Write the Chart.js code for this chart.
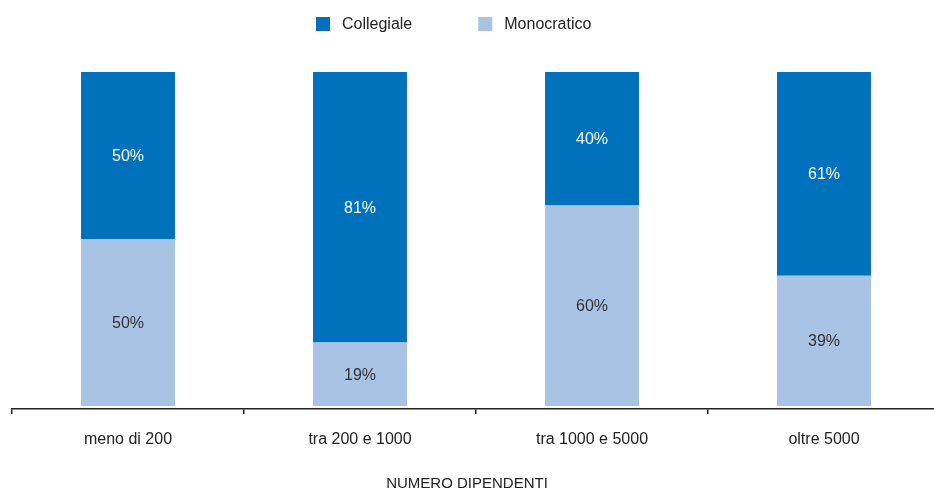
<!DOCTYPE html>
<html lang="it">
<head>
<meta charset="utf-8">
<title>Organo amministrativo per numero dipendenti</title>
<script src="https://cdn.jsdelivr.net/npm/chart.js@4.4.1/dist/chart.umd.min.js"></script>
<style>
  html, body { margin: 0; padding: 0; background: #ffffff; overflow: hidden; }
  #wrap { position: relative; width: 940px; height: 493px; }
  canvas { display: block; }
</style>
</head>
<body>
<div id="wrap"><canvas id="chart" width="940" height="493"></canvas></div>
<script>
// Fasce di dipendenti e quota percentuale di ciascun tipo di organo
const categories = ['meno di 200', 'tra 200 e 1000', 'tra 1000 e 5000', 'oltre 5000'];
const collegiale = [50, 81, 40, 61];
const monocratico = [50, 19, 60, 39];
const seriesNames = ['Collegiale', 'Monocratico'];
const axisTitle = 'NUMERO DIPENDENTI';

const DARK = '#0071BC';
const LIGHT = '#A9C3E4';
const TEXT = '#222222';
const FONT = '"Liberation Sans", Arial, Helvetica, sans-serif';

// Percent labels centred inside every stacked segment
const segmentLabels = {
  id: 'segmentLabels',
  afterDatasetsDraw(chart) {
    const ctx = chart.ctx;
    ctx.save();
    ctx.font = '16px ' + FONT;
    ctx.textAlign = 'center';
    ctx.textBaseline = 'middle';
    chart.data.datasets.forEach((ds, di) => {
      const meta = chart.getDatasetMeta(di);
      meta.data.forEach((bar, i) => {
        const p = bar.getProps(['x', 'y', 'base'], true);
        ctx.fillStyle = ds.labelColor;
        ctx.fillText(ds.data[i] + '%', p.x, (p.y + p.base) / 2 + 1);
      });
    });
    ctx.restore();
  }
};

// Legend row at the top and the axis caption at the bottom
const legendAndCaption = {
  id: 'legendAndCaption',
  afterDraw(chart) {
    const ctx = chart.ctx;
    ctx.save();
    ctx.font = '16px ' + FONT;
    ctx.textBaseline = 'middle';
    ctx.textAlign = 'left';
    const order = [1, 0]; // Collegiale first, then Monocratico
    let x = 316;
    const yMid = 24;
    order.forEach((di) => {
      const ds = chart.data.datasets[di];
      ctx.fillStyle = ds.backgroundColor;
      ctx.fillRect(x, yMid - 7, 14, 14);
      ctx.fillStyle = TEXT;
      ctx.fillText(ds.label, x + 26, yMid + 1);
      x += 26 + ctx.measureText(ds.label).width + 66;
    });
    ctx.font = '15px ' + FONT;
    ctx.textAlign = 'center';
    ctx.fillStyle = TEXT;
    ctx.fillText(axisTitle, 467, 484);
    ctx.restore();
  }
};

new Chart(document.getElementById('chart'), {
  type: 'bar',
  data: {
    labels: categories,
    datasets: [
      { label: seriesNames[1], data: monocratico, backgroundColor: LIGHT, labelColor: '#333333' },
      { label: seriesNames[0], data: collegiale, backgroundColor: DARK, labelColor: '#ffffff' }
    ]
  },
  options: {
    responsive: false,
    animation: false,
    layout: { padding: { left: 12, right: 0, top: 72, bottom: 0 } },
    datasets: { bar: { categoryPercentage: 1, barPercentage: 0.405, borderWidth: 0 } },
    plugins: { legend: { display: false }, tooltip: { enabled: false }, title: { display: false } },
    scales: {
      x: {
        stacked: true,
        offset: true,
        grid: { display: true, offset: true, drawOnChartArea: false, drawTicks: true, tickLength: 5, color: TEXT, lineWidth: 1.5 },
        border: { display: true, color: TEXT, width: 1.5 },
        ticks: { color: TEXT, font: { family: FONT, size: 16 }, padding: 16, maxRotation: 0 },
        afterFit(scale) { scale.height = 84; }
      },
      y: {
        stacked: true,
        display: false,
        min: -0.9,
        max: 100
      }
    }
  },
  plugins: [segmentLabels, legendAndCaption]
});
</script>
</body>
</html>
